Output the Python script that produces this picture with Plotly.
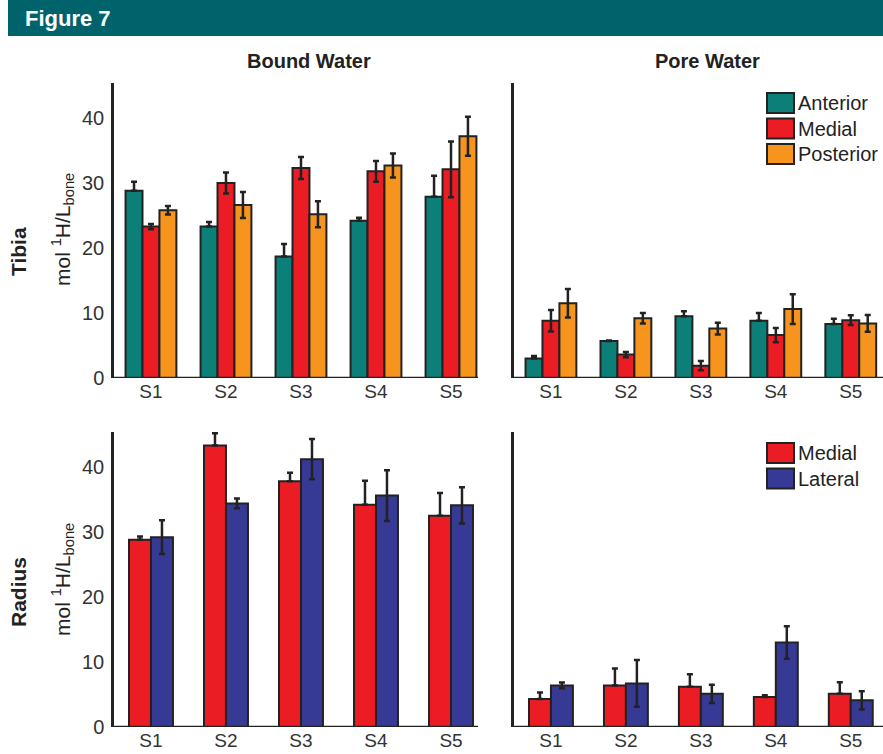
import plotly.graph_objects as go

W, H = 883, 754

# ---------------- data ----------------
sites = ["S1", "S2", "S3", "S4", "S5"]
site_pos = [1, 2, 3, 4, 5]
y_ticks = [0, 10, 20, 30, 40]

# Tibia, bound water (mol 1H / L bone)
tib_bound_anterior = [28.8, 23.3, 18.7, 24.2, 27.9]
tib_bound_anterior_err = [1.4, 0.7, 1.9, 0.45, 3.2]
tib_bound_medial = [23.3, 30.0, 32.3, 31.8, 32.1]
tib_bound_medial_err = [0.4, 1.6, 1.7, 1.6, 4.3]
tib_bound_posterior = [25.8, 26.6, 25.2, 32.7, 37.2]
tib_bound_posterior_err = [0.65, 2.0, 2.0, 1.85, 3.0]

# Tibia, pore water
tib_pore_anterior = [3.0, 5.7, 9.5, 8.8, 8.3]
tib_pore_anterior_err = [0.4, 0.05, 0.75, 1.2, 0.8]
tib_pore_medial = [8.8, 3.6, 1.9, 6.6, 8.9]
tib_pore_medial_err = [1.65, 0.4, 0.7, 1.1, 0.75]
tib_pore_posterior = [11.5, 9.2, 7.6, 10.6, 8.4]
tib_pore_posterior_err = [2.2, 0.8, 0.9, 2.3, 1.3]

# Radius, bound water
rad_bound_medial = [28.8, 43.3, 37.8, 34.2, 32.5]
rad_bound_medial_err = [0.5, 1.9, 1.3, 3.7, 3.5]
rad_bound_lateral = [29.2, 34.4, 41.2, 35.6, 34.1]
rad_bound_lateral_err = [2.6, 0.75, 3.1, 3.9, 2.8]

# Radius, pore water
rad_pore_medial = [4.3, 6.4, 6.2, 4.6, 5.1]
rad_pore_medial_err = [1.0, 2.6, 1.9, 0.3, 1.8]
rad_pore_lateral = [6.4, 6.7, 5.1, 13.0, 4.1]
rad_pore_lateral_err = [0.45, 3.6, 1.4, 2.5, 1.4]

# ---------------- style ----------------
C_TEAL = "#0c7f79"
C_RED = "#ec1c24"
C_ORANGE = "#f7941e"
C_BLUE = "#363a95"
C_DARK = "#222222"
C_HEADER = "#00626b"
FONT = "Liberation Sans, Arial, Helvetica, sans-serif"

fig = go.Figure()


def add_bar(xa, ya, vals, errs, color, width, offset, upper_only):
    if upper_only:
        err = dict(type="data", symmetric=False, array=errs,
                   arrayminus=[0] * len(errs), color=C_DARK, thickness=2.5, width=3)
    else:
        err = dict(type="data", array=errs, color=C_DARK, thickness=2.5, width=3)
    fig.add_trace(go.Bar(
        x=site_pos, y=vals, width=width, offset=offset,
        marker=dict(color=color, line=dict(color=C_DARK, width=2)),
        error_y=err, xaxis=xa, yaxis=ya, showlegend=False,
    ))


tw = 0.226
add_bar("x", "y", tib_bound_anterior, tib_bound_anterior_err, C_TEAL, tw, -1.5 * tw, True)
add_bar("x", "y", tib_bound_medial, tib_bound_medial_err, C_RED, tw, -0.5 * tw, False)
add_bar("x", "y", tib_bound_posterior, tib_bound_posterior_err, C_ORANGE, tw, 0.5 * tw, False)

add_bar("x2", "y2", tib_pore_anterior, tib_pore_anterior_err, C_TEAL, tw, -1.5 * tw, True)
add_bar("x2", "y2", tib_pore_medial, tib_pore_medial_err, C_RED, tw, -0.5 * tw, False)
add_bar("x2", "y2", tib_pore_posterior, tib_pore_posterior_err, C_ORANGE, tw, 0.5 * tw, False)

rw = 0.293
add_bar("x3", "y3", rad_bound_medial, rad_bound_medial_err, C_RED, rw, -rw, True)
add_bar("x3", "y3", rad_bound_lateral, rad_bound_lateral_err, C_BLUE, rw, 0, False)

add_bar("x4", "y4", rad_pore_medial, rad_pore_medial_err, C_RED, rw, -rw, True)
add_bar("x4", "y4", rad_pore_lateral, rad_pore_lateral_err, C_BLUE, rw, 0, False)


def px_x(p):
    return p / W


def px_y(p):
    return 1 - p / H


Y_MAX = 45.4
PPU = 6.5  # pixels per data unit (vertical)
TOP_BASE, BOT_BASE = 378, 727
LABEL_LIFT = 2
dom_x_left = [px_x(114), px_x(478)]
dom_x_right = [px_x(514), 1.0]
dom_y_top = [px_y(TOP_BASE), px_y(TOP_BASE - Y_MAX * PPU)]
dom_y_bot = [px_y(BOT_BASE), px_y(BOT_BASE - Y_MAX * PPU)]

xcommon = dict(tickmode="array", tickvals=site_pos, ticktext=sites,
               showline=False, ticks="", anchor="free",
               showgrid=False, zeroline=False, automargin=False,
               tickfont=dict(family=FONT, size=19, color="#333333"),
               ticklabelstandoff=2, fixedrange=True)
ycommon = dict(range=[0, Y_MAX], tickmode="array", tickvals=y_ticks,
               showline=True, linecolor=C_DARK, linewidth=2.5, ticks="",
               showgrid=False, zeroline=False, automargin=False,
               tickfont=dict(family=FONT, size=20, color="#333333"),
               ticklabelstandoff=3, fixedrange=True)

fig.update_layout(
    width=W, height=H,
    margin=dict(l=0, r=0, t=0, b=0),
    paper_bgcolor="white", plot_bgcolor="white",
    showlegend=False,
    xaxis=dict(domain=dom_x_left, range=[0.507, 5.36],
               position=px_y(TOP_BASE - LABEL_LIFT), **xcommon),
    yaxis=dict(domain=dom_y_top, anchor="x", showticklabels=True, **ycommon),
    xaxis2=dict(domain=dom_x_right, range=[0.507, 5.43],
                position=px_y(TOP_BASE - LABEL_LIFT), **xcommon),
    yaxis2=dict(domain=dom_y_top, anchor="x2", showticklabels=False, **ycommon),
    xaxis3=dict(domain=dom_x_left, range=[0.507, 5.36],
                position=px_y(BOT_BASE - LABEL_LIFT), **xcommon),
    yaxis3=dict(domain=dom_y_bot, anchor="x3", showticklabels=True, **ycommon),
    xaxis4=dict(domain=dom_x_right, range=[0.507, 5.43],
                position=px_y(BOT_BASE - LABEL_LIFT), **xcommon),
    yaxis4=dict(domain=dom_y_bot, anchor="x4", showticklabels=False, **ycommon),
)

shapes = []
annotations = []

# x-axis baselines at y = 0 of each panel
for xa, ya in [("x", "y"), ("x2", "y2"), ("x3", "y3"), ("x4", "y4")]:
    shapes.append(dict(type="line", xref="%s domain" % xa, yref=ya,
                       x0=0, x1=1, y0=0, y1=0,
                       line=dict(color=C_DARK, width=2.5)))

# header band
shapes.append(dict(type="rect", xref="paper", yref="paper",
                   x0=px_x(8), x1=1.0, y0=px_y(36), y1=1.0,
                   fillcolor=C_HEADER, line=dict(width=0), layer="below"))
annotations.append(dict(text="<b>Figure 7</b>", xref="paper", yref="paper",
                        x=px_x(23), y=px_y(19), xanchor="left", yanchor="middle",
                        showarrow=False,
                        font=dict(family="Liberation Sans Narrow, Arial Narrow, Liberation Sans, sans-serif",
                                  size=22, color="white")))

# column titles
for txt, cx in [("Bound Water", 309), ("Pore Water", 707)]:
    annotations.append(dict(text="<b>%s</b>" % txt, xref="paper", yref="paper",
                            x=px_x(cx), y=px_y(61), xanchor="center", yanchor="middle",
                            showarrow=False, font=dict(family=FONT, size=20, color=C_DARK)))

# row titles and y-axis labels
for name, cy_name, cy_unit in [("Tibia", 252, 230), ("Radius", 592, 580)]:
    annotations.append(dict(text="<b>%s</b>" % name, xref="paper", yref="paper",
                            x=px_x(18), y=px_y(cy_name), xanchor="center", yanchor="middle",
                            textangle=-90, showarrow=False,
                            font=dict(family=FONT, size=21, color=C_DARK)))
    annotations.append(dict(text="mol <sup>1</sup>H/L<sub>bone</sub>", xref="paper", yref="paper",
                            x=px_x(62), y=px_y(cy_unit), xanchor="center", yanchor="middle",
                            textangle=-90, showarrow=False,
                            font=dict(family=FONT, size=21, color=C_DARK)))

# legends
tib_legend = [("Anterior", C_TEAL), ("Medial", C_RED), ("Posterior", C_ORANGE)]
rad_legend = [("Medial", C_RED), ("Lateral", C_BLUE)]
for items, top in [(tib_legend, 93), (rad_legend, 443)]:
    for i, (lab, col) in enumerate(items):
        y0 = top + i * 25.5
        shapes.append(dict(type="rect", xref="paper", yref="paper",
                           x0=px_x(767), x1=px_x(794), y0=px_y(y0 + 20), y1=px_y(y0),
                           fillcolor=col, line=dict(color=C_DARK, width=2)))
        annotations.append(dict(text=lab, xref="paper", yref="paper",
                                x=px_x(796), y=px_y(y0 + 10), xanchor="left", yanchor="middle",
                                showarrow=False, font=dict(family=FONT, size=20, color=C_DARK)))

fig.update_layout(shapes=shapes, annotations=annotations)

fig.write_html("out.html",
               config={"displayModeBar": False},
               post_script="document.body.style.margin='0';document.body.style.overflow='hidden';")
